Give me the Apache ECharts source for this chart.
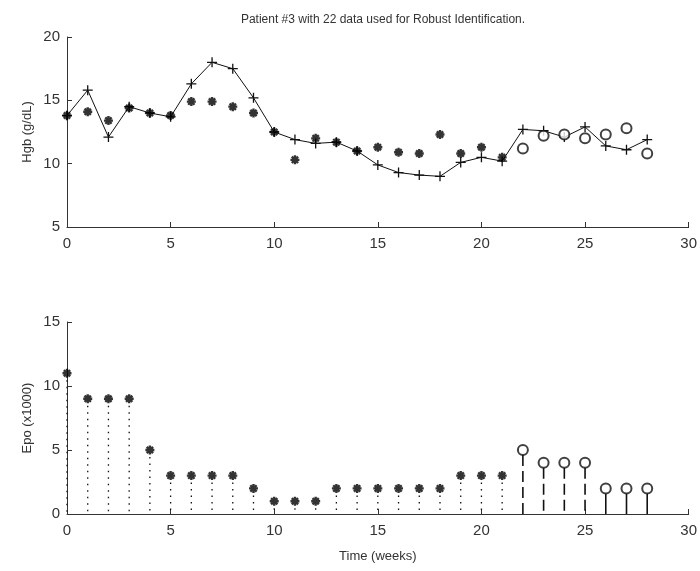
<!DOCTYPE html>
<html>
<head>
<meta charset="utf-8">
<script src="https://cdn.jsdelivr.net/npm/echarts@6/dist/echarts.min.js"></script>
<style>
html, body { margin: 0; padding: 0; background: #fff; }
#container { width: 700px; height: 571px; }
</style>
</head>
<body>
<div id="container"></div>
<script>
var weeks = [0, 1, 2, 3, 4, 5, 6, 7, 8, 9, 10, 11, 12, 13, 14, 15, 16, 17, 18, 19, 20, 21, 22, 23, 24, 25, 26, 27, 28];
// model fit (+)
var hgbModel = [13.8, 15.8, 12.1, 14.5, 14.0, 13.7, 16.3, 18.0, 17.5, 15.2, 12.5, 11.9, 11.6, 11.7, 11.0, 9.9, 9.3, 9.1, 9.0, 10.1, 10.5, 10.2, 12.7, 12.6, 12.1, 12.9, 11.4, 11.1, 11.9];
// data used for identification (*)
var hgbUsed = [13.8, 14.1, 13.4, 14.4, 14.0, 13.8, 14.9, 14.9, 14.5, 14.0, 12.5, 10.3, 12.0, 11.7, 11.0, 11.3, 10.9, 10.8, 12.3, 10.8, 11.3, 10.5];
// data not used (o)
var hgbHeld = [11.2, 12.2, 12.3, 12.0, 12.3, 12.8, 10.8];
var epo = [11, 9, 9, 9, 5, 3, 3, 3, 3, 2, 1, 1, 1, 2, 2, 2, 2, 2, 2, 3, 3, 3, 5, 4, 4, 4, 2, 2, 2];

var nUsed = hgbUsed.length;
var nDashed = 4;

var plusPath = 'path://M0,5L10,5M5,0L5,10';
var starPath = 'path://M0,5L10,5M5,0L5,10M1.5,1.5L8.5,8.5M8.5,1.5L1.5,8.5';

function pairs(xs, ys) {
    return ys.map(function (v, i) { return [xs[i], v]; });
}
var usedWeeks = weeks.slice(0, nUsed);
var heldWeeks = weeks.slice(nUsed);

var dom = document.getElementById("container");
var myChart = echarts.init(dom);

var axisCommon = {
    axisLine: { show: true, onZero: false, lineStyle: { color: '#333', width: 1 } },
    axisTick: { show: true, inside: true, length: 5, lineStyle: { color: '#333' } },
    splitLine: { show: false },
    nameMoveOverlap: false,
    axisLabel: { color: '#333', fontSize: 15, fontFamily: 'Liberation Sans' },
    nameTextStyle: { color: '#333', fontSize: 13, fontFamily: 'Liberation Sans' }
};

function xAxisOf(idx, name) {
    return Object.assign({}, axisCommon, {
        type: 'value', gridIndex: idx, min: 0, max: 30, interval: 5,
        name: name, nameLocation: 'middle', nameGap: 36,
        axisLabel: Object.assign({}, axisCommon.axisLabel, { margin: 9 })
    });
}
function yAxisOf(idx, name, min, max) {
    return Object.assign({}, axisCommon, {
        type: 'value', gridIndex: idx, min: min, max: max, interval: 5,
        name: name, nameLocation: 'middle', nameGap: 33,
        axisLabel: Object.assign({}, axisCommon.axisLabel, { margin: 7 })
    });
}

option = {
    animation: false,
    backgroundColor: '#fff',
    title: {
        text: 'Patient #3 with 22 data used for Robust Identification.',
        left: 378,
        top: 9,
        textAlign: 'center',
        textStyle: { color: '#333', fontSize: 12, fontWeight: 'normal', fontFamily: 'Liberation Sans' }
    },
    grid: [
        { left: 67, right: 10, top: 37, height: 190 },
        { left: 67, right: 10, top: 322, height: 192 }
    ],
    xAxis: [
        xAxisOf(0, ''),
        xAxisOf(1, 'Time (weeks)')
    ],
    yAxis: [
        yAxisOf(0, 'Hgb (g/dL)', 5, 20),
        yAxisOf(1, 'Epo (x1000)', 0, 15)
    ],
    series: [
        {
            name: 'model',
            type: 'line',
            xAxisIndex: 0, yAxisIndex: 0,
            data: pairs(weeks, hgbModel),
            symbol: plusPath,
            symbolSize: 10,
            lineStyle: { color: '#111', width: 1 },
            itemStyle: { color: 'transparent', borderColor: '#111', borderWidth: 1.3 },
            z: 3
        },
        {
            name: 'used',
            type: 'scatter',
            xAxisIndex: 0, yAxisIndex: 0,
            data: pairs(usedWeeks, hgbUsed),
            symbol: starPath,
            symbolSize: 9,
            itemStyle: { color: 'transparent', borderColor: '#000', borderWidth: 2.4 },
            z: 4
        },
        {
            name: 'held',
            type: 'scatter',
            xAxisIndex: 0, yAxisIndex: 0,
            data: pairs(heldWeeks, hgbHeld),
            symbol: 'emptyCircle',
            symbolSize: 10,
            itemStyle: { color: '#111', borderColor: '#111', borderWidth: 1 },
            z: 4
        },
        {
            name: 'stems',
            type: 'custom',
            xAxisIndex: 1, yAxisIndex: 1,
            data: pairs(weeks, epo),
            renderItem: function (params, api) {
                var i = params.dataIndex;
                var top = api.coord([api.value(0), api.value(1)]);
                var base = api.coord([api.value(0), 0]);
                var dash, off;
                if (i < nUsed) { dash = [1.5, 5]; off = 7; }
                else if (i < nUsed + nDashed) { dash = [11, 5]; off = 5; }
                else { dash = null; off = 5; }
                return {
                    type: 'line',
                    shape: { x1: top[0], y1: top[1] + off, x2: base[0], y2: base[1] },
                    style: { stroke: '#111', lineWidth: i < nUsed ? 1.3 : 1.6, lineDash: dash }
                };
            },
            z: 2
        },
        {
            name: 'epoUsed',
            type: 'scatter',
            xAxisIndex: 1, yAxisIndex: 1,
            data: pairs(usedWeeks, epo.slice(0, nUsed)),
            symbol: starPath,
            symbolSize: 9,
            itemStyle: { color: 'transparent', borderColor: '#000', borderWidth: 2.4 },
            z: 4
        },
        {
            name: 'epoHeld',
            type: 'scatter',
            xAxisIndex: 1, yAxisIndex: 1,
            data: pairs(heldWeeks, epo.slice(nUsed)),
            symbol: 'emptyCircle',
            symbolSize: 10,
            itemStyle: { color: '#111', borderColor: '#111', borderWidth: 1 },
            z: 4
        }
    ]
};

if (option && typeof option === "object") {
    myChart.setOption(option, true);
}
</script>
</body>
</html>
